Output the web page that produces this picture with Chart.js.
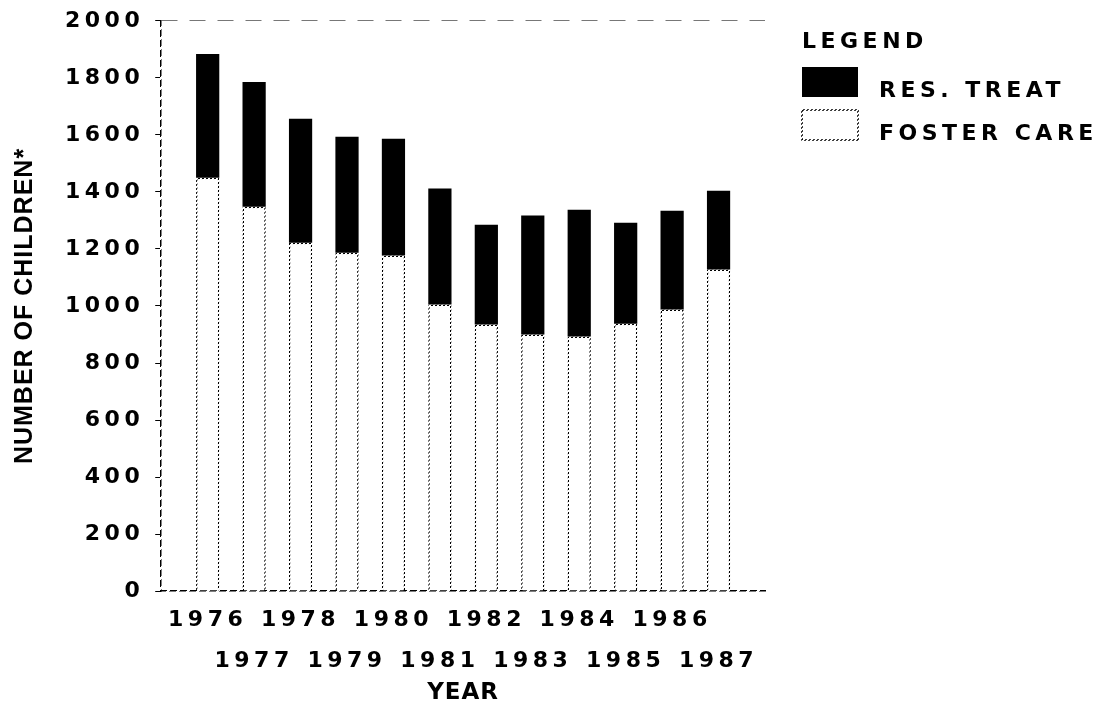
<!DOCTYPE html>
<html>
<head>
<meta charset="utf-8">
<title>Number of children by year</title>
<script src="https://cdn.jsdelivr.net/npm/chart.js@4.4.1/dist/chart.umd.min.js"></script>
<style>
  html, body { margin: 0; padding: 0; background: #fff; }
  #wrap { width: 1115px; height: 704px; }
</style>
</head>
<body>
<div id="wrap"><canvas id="chart" width="1115" height="704"></canvas></div>
<script>
  /* ── Data ─────────────────────────────────────────── */
  const YEARS       = [1976, 1977, 1978, 1979, 1980, 1981, 1982, 1983, 1984, 1985, 1986, 1987];
  const FOSTER_CARE = [1450, 1348, 1222, 1187, 1177, 1005,  935,  900,  893,  938,  988, 1128];
  const RES_TREAT   = [ 434,  438,  435,  407,  410,  407,  350,  417,  445,  354,  346,  276];
  const SERIES      = ['FOSTER CARE', 'RES. TREAT'];
  const Y_MIN = 0, Y_MAX = 2000, Y_STEP = 200;
  const X_MIN = 1975, X_MAX = 1988;

  const INK = '#000';
  const WIDE = '4.5px';   // plotter-style tracking for tick labels / legend
  const TIGHT = '1px';    // axis titles
  const FONT = "'DejaVu Sans', sans-serif";
  const TICK_FONT = { family: FONT, size: 22, weight: 'bold' };

  /* ── Dotted / dashed inks built as patterns ───────── */
  function dashPattern(size, on) {
    const c = document.createElement('canvas');
    c.width = c.height = size;
    const g = c.getContext('2d');
    g.fillStyle = INK;
    for (let x = 0; x < size; x++)
      for (let y = 0; y < size; y++)
        if ((x + y) % size < on) g.fillRect(x, y, 1, 1);
    return g.createPattern(c, 'repeat');
  }
  const DOTS = dashPattern(4, 2);
  const DASH = dashPattern(10, 7);

  /* ── Letter spacing: titles tight, tick labels wide ─ */
  const spacingPlugin = {
    id: 'spacing',
    beforeLayout(chart) { chart.ctx.letterSpacing = WIDE; },
    beforeDraw(chart) { chart.ctx.letterSpacing = TIGHT; },
    beforeDatasetsDraw(chart) { chart.ctx.letterSpacing = WIDE; }
  };

  /* ── Side legend, drawn from the datasets ─────────── */
  const sideLegend = {
    id: 'sideLegend',
    afterDraw(chart, args, o) {
      const ctx = chart.ctx;
      ctx.save();
      ctx.letterSpacing = WIDE;
      ctx.font = `bold ${o.size}px ${FONT}`;
      ctx.textBaseline = 'alphabetic';
      ctx.textAlign = 'left';
      ctx.fillStyle = INK;
      ctx.fillText(o.title, o.x, o.titleY);
      chart.data.datasets.slice().reverse().forEach((ds, i) => {
        const top = o.top + i * o.pitch;
        ctx.fillStyle = ds.backgroundColor;
        ctx.fillRect(o.x, top, o.boxW, o.boxH);
        if (ds.borderWidth) {
          ctx.lineWidth = ds.borderWidth;
          ctx.strokeStyle = ds.borderColor;
          ctx.strokeRect(o.x, top, o.boxW, o.boxH);
        }
        ctx.fillStyle = INK;
        ctx.fillText(ds.label, o.x + o.boxW + o.gap, top + o.baseline);
      });
      ctx.restore();
    }
  };

  new Chart(document.getElementById('chart'), {
    type: 'bar',
    data: {
      labels: YEARS,
      datasets: [
        {
          label: SERIES[0],
          data: FOSTER_CARE,
          backgroundColor: '#fff',
          borderColor: DOTS,
          borderWidth: 1.5,
        },
        {
          label: SERIES[1],
          data: RES_TREAT,
          backgroundColor: INK,
          borderWidth: 0,
        }
      ]
    },
    plugins: [spacingPlugin, sideLegend],
    options: {
      responsive: false,
      devicePixelRatio: 1,
      animation: false,
      categoryPercentage: 1,
      barPercentage: 0.5,
      layout: { padding: { top: 0, left: 0, right: 350, bottom: 3 } },
      plugins: {
        tooltip: { enabled: false },
        legend: { display: false },
        sideLegend: {
          title: 'LEGEND', size: 22,
          x: 802, titleY: 48, top: 67, pitch: 43,
          boxW: 56, boxH: 30, gap: 21, baseline: 30
        }
      },
      scales: {
        x: {
          type: 'linear',
          stacked: true,
          min: X_MIN,
          max: X_MAX,
          offset: false,
          grid: { display: false, drawTicks: false, offset: false },
          border: { display: true, color: DASH, width: 1.5 },
          ticks: {
            z: 1,
            stepSize: 1,
            autoSkip: false,
            maxRotation: 0,
            minRotation: 0,
            padding: 9,
            color: INK,
            font: { ...TICK_FONT, lineHeight: 1.84 },
            callback: v => {
              if (v < YEARS[0] || v > YEARS[YEARS.length - 1]) return '';
              return v % 2 === 0 ? [String(v), ''] : ['', String(v)];
            }
          },
          title: {
            display: true,
            text: 'YEAR',
            color: INK,
            font: { family: FONT, size: 23, weight: 'bold', lineHeight: 0.65 },
            padding: { top: -4, bottom: 0 }
          }
        },
        y: {
          stacked: true,
          min: Y_MIN,
          max: Y_MAX,
          grid: {
            color: c => (c.tick && c.tick.value === Y_MAX) ? '#777' : 'rgba(0,0,0,0)',
            tickColor: INK,
            tickLength: 6,
            lineWidth: 1
          },
          border: { display: true, color: DASH, width: 1.5, dash: [16, 12] },
          ticks: {
            z: 1,
            stepSize: Y_STEP,
            padding: 11,
            color: INK,
            font: { ...TICK_FONT, lineHeight: 0.9 },
            callback: v => String(v)
          },
          title: {
            display: true,
            text: 'NUMBER OF CHILDREN*',
            color: INK,
            font: { family: "'Liberation Sans', sans-serif", size: 25, weight: 'bold' },
            padding: { top: 10, bottom: 14 }
          }
        }
      }
    }
  });
</script>
</body>
</html>
